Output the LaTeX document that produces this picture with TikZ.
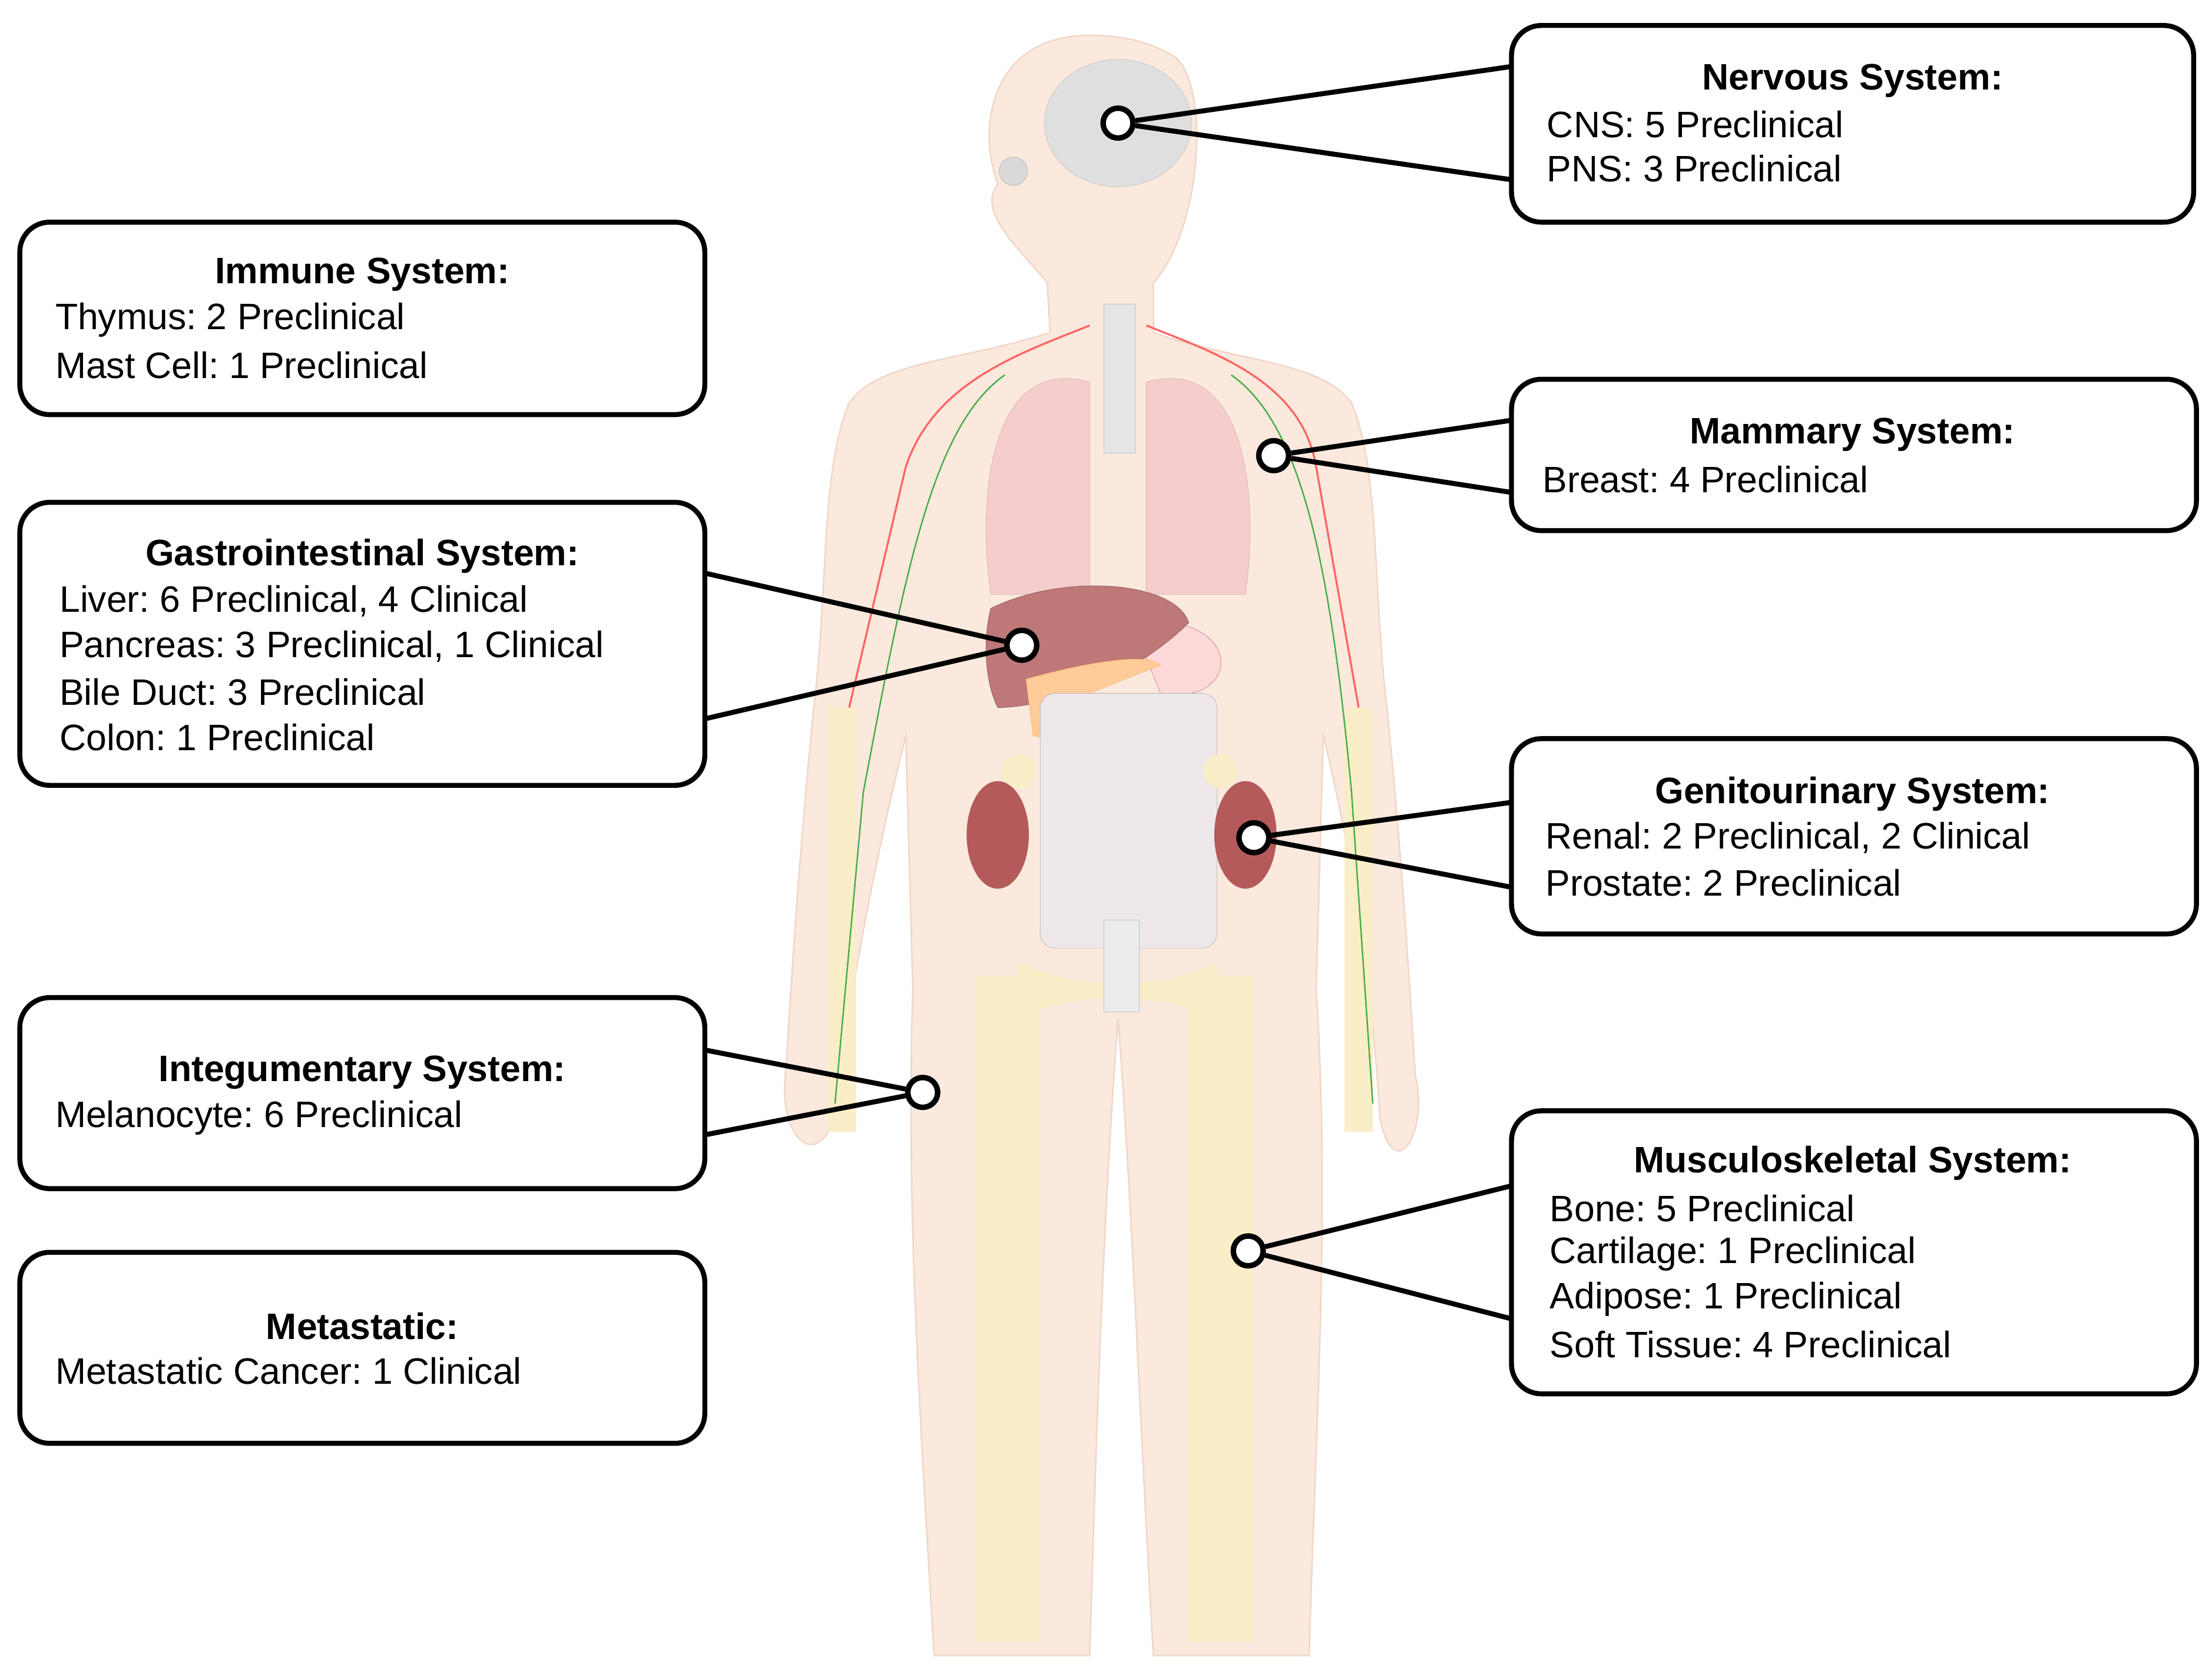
\documentclass[tikz,border=0pt]{standalone}
\usepackage{fontspec}
\setmainfont{Liberation Sans}
\frenchspacing
\begin{document}
\begin{tikzpicture}[x=0.05cm,y=-0.05cm,
 box/.style={draw,line width=5pt,rounded corners=30pt,fill=white},
 txt/.style={font=\fontsize{37}{44}\selectfont,anchor=west,inner sep=0},
 ttl/.style={font=\fontsize{37}{44}\selectfont\bfseries,inner sep=0},
 pin/.style={circle,draw,line width=5.5pt,fill=white,minimum size=30pt,inner sep=0},
 con/.style={line width=5pt}]
\definecolor{skin}{RGB}{251,233,222}
\definecolor{skinE}{RGB}{240,215,200}
\definecolor{bone}{RGB}{250,238,200}
\definecolor{lung}{RGB}{245,205,205}
\definecolor{liver}{RGB}{190,120,120}
\definecolor{kid}{RGB}{180,90,90}
\definecolor{gut}{RGB}{238,232,235}
\useasboundingbox (0,0) rectangle (1563,1178);
\fill[white] (0,0) rectangle (1563,1178);
% body
\path[fill=skin,draw=skinE,line width=1.5pt]
 (770,25) .. controls (700,25) and (690,90) .. (705,130)
 .. controls (690,150) and (720,175) .. (740,200) -- (742,235)
 .. controls (680,255) and (620,255) .. (600,285)
 .. controls (580,330) and (585,420) .. (575,500)
 .. controls (565,600) and (560,680) .. (555,760)
 .. controls (550,800) and (575,830) .. (590,790)
 .. controls (600,700) and (620,600) .. (640,520)
 -- (645,700) .. controls (640,850) and (650,1000) .. (660,1170)
 -- (770,1170) .. controls (775,1000) and (780,850) .. (790,720)
 .. controls (800,850) and (805,1000) .. (815,1170)
 -- (925,1170) .. controls (930,1000) and (940,850) .. (930,700)
 -- (935,520) .. controls (955,600) and (970,700) .. (975,790)
 .. controls (985,840) and (1010,800) .. (1000,760)
 .. controls (995,680) and (990,600) .. (980,500)
 .. controls (970,420) and (975,330) .. (955,285)
 .. controls (935,255) and (870,255) .. (815,235) -- (815,200)
 .. controls (850,160) and (855,60) .. (830,40) .. controls (810,28) and (790,25) .. (770,25) -- cycle;
% brain
\fill[gray!25,draw=gray!50] (790,87) ellipse (52 and 45);
% eye
\fill[gray!30,draw=gray!60] (716,121) circle (10);
% bones
\fill[bone] (690,690) rectangle (735,1160);
\fill[bone] (840,690) rectangle (885,1160);
\fill[bone] (720,680) .. controls (760,700) and (820,700) .. (860,680) -- (860,720) .. controls (820,700) and (760,700) .. (720,720) -- cycle;
\fill[bone] (585,500) rectangle (605,800);
\fill[bone] (950,500) rectangle (970,800);
% vessels / nerves
\draw[red!60,line width=2pt] (770,230) .. controls (720,250) and (660,270) .. (640,330) -- (600,500);
\draw[red!60,line width=2pt] (810,230) .. controls (860,250) and (920,270) .. (930,330) -- (960,500);
\draw[green!55!black!70,line width=1.5pt] (710,265) .. controls (660,300) and (640,400) .. (610,560) -- (590,780);
\draw[green!55!black!70,line width=1.5pt] (870,265) .. controls (920,300) and (940,400) .. (955,560) -- (970,780);
% lungs
\fill[lung,draw=liver!60] (770,270) .. controls (700,250) and (690,350) .. (700,420) -- (770,420) -- cycle;
\fill[lung,draw=liver!60] (810,270) .. controls (880,250) and (890,350) .. (880,420) -- (810,420) -- cycle;
\fill[gray!20,draw=gray!50] (780,215) rectangle (802,320);
% liver & stomach
\fill[pink!60,draw=liver] (800,440) .. controls (880,430) and (880,500) .. (820,490) -- cycle;
\fill[liver,draw=liver!70!black] (700,430) .. controls (750,405) and (830,410) .. (840,440) .. controls (800,480) and (740,500) .. (705,500) .. controls (695,480) and (695,450) .. (700,430) -- cycle;
\fill[orange!40,draw=orange!60] (725,480) .. controls (760,470) and (810,460) .. (820,470) -- (770,490) -- (760,525) -- (730,520) -- cycle;
% intestines
\fill[gut,draw=gray!60,rounded corners=15pt] (735,490) rectangle (860,670);
\fill[gray!15,draw=gray!50] (780,650) rectangle (805,715);
% kidneys
\fill[kid] (705,590) ellipse (22 and 38);
\fill[kid] (880,590) ellipse (22 and 38);
\fill[bone] (720,545) circle (12); \fill[bone] (862,545) circle (12);
% boxes
\draw[box] (14,157) rectangle (498,293);
\node[ttl] at (256,194) {Immune System:};
\node[txt] at (39,226) {Thymus: 2 Preclinical};
\node[txt] at (39,258) {Mast Cell: 1 Preclinical};
\draw[box] (1068,18) rectangle (1550,157);
\node[ttl] at (1309,57) {Nervous System:};
\node[txt] at (1093,88) {CNS: 5 Preclinical};
\node[txt] at (1093,119) {PNS: 3 Preclinical};
\draw[box] (1068,268) rectangle (1552,375);
\node[ttl] at (1309,307) {Mammary System:};
\node[txt] at (1090,339) {Breast: 4 Preclinical};
\draw[box] (14,355) rectangle (498,555);
\node[ttl] at (256,393) {Gastrointestinal System:};
\node[txt] at (42,425) {Liver: 6 Preclinical, 4 Clinical};
\node[txt] at (42,457) {Pancreas: 3 Preclinical, 1 Clinical};
\node[txt] at (42,489) {Bile Duct: 3 Preclinical};
\node[txt] at (42,521) {Colon: 1 Preclinical};
\draw[box] (1068,522) rectangle (1552,660);
\node[ttl] at (1309,561) {Genitourinary System:};
\node[txt] at (1092,592) {Renal: 2 Preclinical, 2 Clinical};
\node[txt] at (1092,624) {Prostate: 2 Preclinical};
\draw[box] (14,705) rectangle (498,840);
\node[ttl] at (256,758) {Integumentary System:};
\node[txt] at (39,790) {Melanocyte: 6 Preclinical};
\draw[box] (14,885) rectangle (498,1020);
\node[ttl] at (256,937) {Metastatic:};
\node[txt] at (39,969) {Metastatic Cancer: 1 Clinical};
\draw[box] (1068,785) rectangle (1552,985);
\node[ttl] at (1309,822) {Musculoskeletal System:};
\node[txt] at (1095,854) {Bone: 5 Preclinical};
\node[txt] at (1095,886) {Cartilage: 1 Preclinical};
\node[txt] at (1095,918) {Adipose: 1 Preclinical};
\node[txt] at (1095,950) {Soft Tissue: 4 Preclinical};
% connector ends
\coordinate (n1) at (1068,47); \coordinate (n2) at (1068,127);
\coordinate (m1) at (1068,297); \coordinate (m2) at (1068,348);
\coordinate (g1) at (498,405); \coordinate (g2) at (498,508);
\coordinate (r1) at (1068,567); \coordinate (r2) at (1068,627);
\coordinate (i1) at (498,742); \coordinate (i2) at (498,802);
\coordinate (s1) at (1068,838); \coordinate (s2) at (1068,932);
\node[pin] (pn) at (790,87) {};
\node[pin] (pm) at (900,322) {};
\node[pin] (pg) at (722,456) {};
\node[pin] (pr) at (886,592) {};
\node[pin] (pi) at (652,772) {};
\node[pin] (ps) at (882,884) {};
\draw[con] (pn) -- (n1); \draw[con] (pn) -- (n2);
\draw[con] (pm) -- (m1); \draw[con] (pm) -- (m2);
\draw[con] (pg) -- (g1); \draw[con] (pg) -- (g2);
\draw[con] (pr) -- (r1); \draw[con] (pr) -- (r2);
\draw[con] (pi) -- (i1); \draw[con] (pi) -- (i2);
\draw[con] (ps) -- (s1); \draw[con] (ps) -- (s2);
\end{tikzpicture}
\end{document}
